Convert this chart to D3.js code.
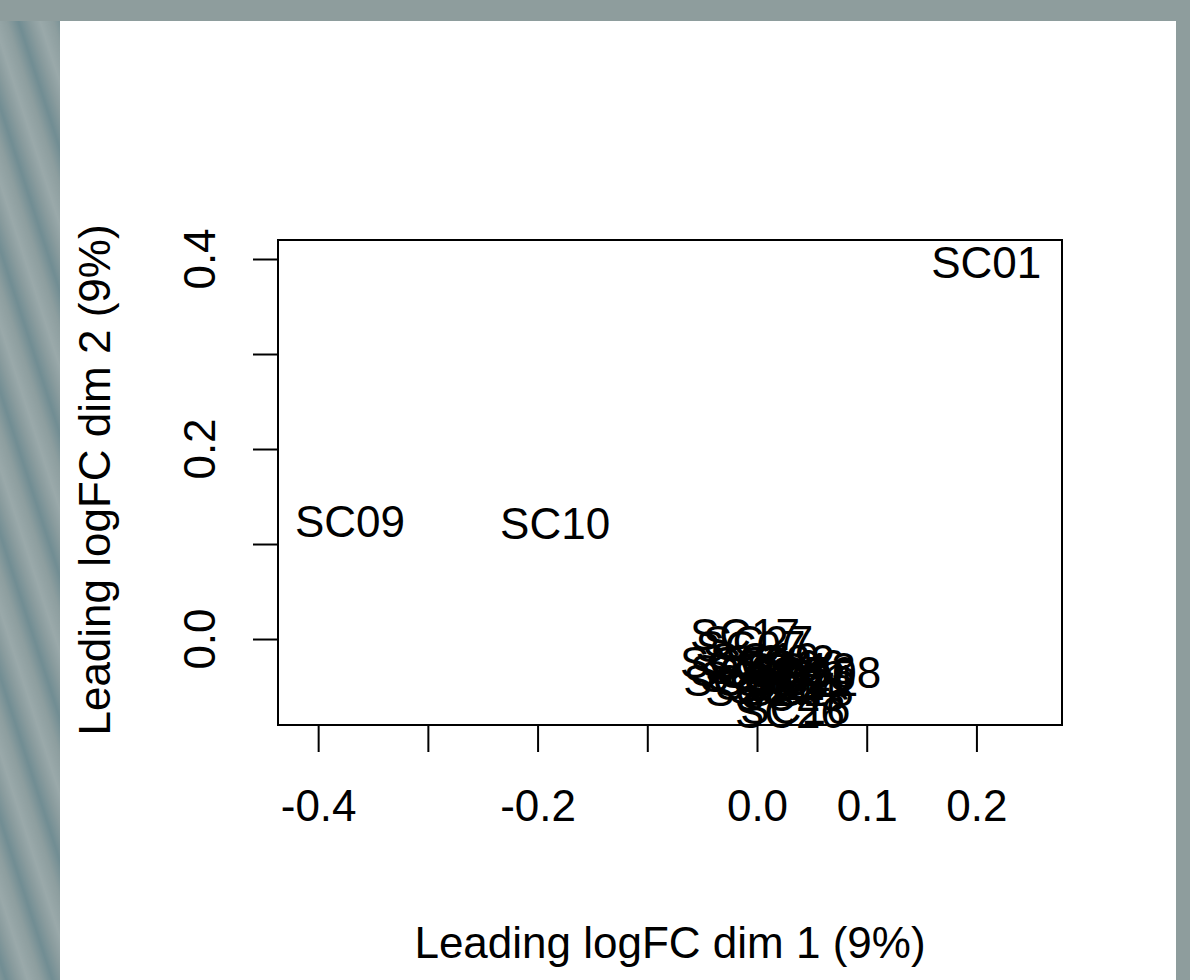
<!DOCTYPE html>
<html>
<head>
<meta charset="utf-8">
<script src="https://cdn.jsdelivr.net/npm/d3@7"></script>
<style>
  body { margin: 0; background: #8e9d9d; }
  svg { display: block; }
  text { font-family: "Liberation Sans", Arial, sans-serif; fill: #000; }
</style>
</head>
<body>
<svg id="mds" width="1190" height="980"></svg>
<script>
// sample labels and their MDS coordinates
const samples = ["SC01","SC09","SC10","SC17","SC07","SC27","SC02","SC03","SC04","SC05","SC06","SC08",
                 "SC11","SC12","SC13","SC14","SC15","SC16","SC18","SC19","SC20","SC21","SC22","SC23",
                 "SC24","SC25","SC26"];
const dim1 = [0.209,-0.371,-0.184,-0.011,-0.006,0.001,-0.020,-0.017,0.003,0.016,0.030,0.063,
              0.036,0.012,0.040,0.024,-0.002,0.035,0.038,0.007,-0.011,0.042,0.021,0.030,
              0.003,0.040,0.030];
const dim2 = [0.397,0.124,0.122,0.005,-0.007,-0.002,-0.024,-0.043,-0.031,-0.035,-0.027,-0.035,
              -0.041,-0.047,-0.031,-0.052,-0.039,-0.073,-0.054,-0.020,-0.033,-0.043,-0.022,-0.059,
              -0.054,-0.038,-0.077];

const xTicks = [-0.4,-0.3,-0.2,-0.1,0.0,0.1,0.2];
const xTickLabels = ["-0.4","","-0.2","","0.0","0.1","0.2"];
const yTicks = [0.0,0.1,0.2,0.3,0.4];
const yTickLabels = ["0.0","","0.2","","0.4"];

const xTitle = "Leading logFC dim 1 (9%)";
const yTitle = "Leading logFC dim 2 (9%)";

const box = {left: 278, right: 1062, top: 240, bottom: 725};

const svg = d3.select("#mds");

// striped left edge of the backdrop
const defs = svg.append("defs");
const grad = defs.append("linearGradient").attr("id", "stripeGrad");
grad.append("stop").attr("offset", "0%").attr("stop-color", "#8d9e9f");
grad.append("stop").attr("offset", "25%").attr("stop-color", "#718d93");
grad.append("stop").attr("offset", "50%").attr("stop-color", "#8a9c9e");
grad.append("stop").attr("offset", "72%").attr("stop-color", "#9aa9aa");
grad.append("stop").attr("offset", "100%").attr("stop-color", "#8d9e9f");
const pat = defs.append("pattern")
    .attr("id", "stripes")
    .attr("patternUnits", "userSpaceOnUse")
    .attr("width", 44).attr("height", 44)
    .attr("patternTransform", "rotate(-18)");
pat.append("rect").attr("width", 44).attr("height", 44).attr("fill", "url(#stripeGrad)");

svg.append("rect").attr("x", 0).attr("y", 0).attr("width", 1190).attr("height", 980).attr("fill", "#8e9d9d");
svg.append("rect").attr("x", 0).attr("y", 21).attr("width", 60).attr("height", 959).attr("fill", "url(#stripes)");
svg.append("rect").attr("x", 60).attr("y", 21).attr("width", 1116).attr("height", 959).attr("fill", "#fff");

const x = d3.scaleLinear().domain([-0.4366, 0.278]).range([box.left, box.right]);
const y = d3.scaleLinear().domain([-0.0905, 0.42]).range([box.bottom, box.top]);

// x axis
const xAxis = svg.append("g")
    .attr("transform", "translate(0," + box.bottom + ")")
    .call(d3.axisBottom(x)
        .tickValues(xTicks)
        .tickSize(27)
        .tickPadding(38)
        .tickFormat((d, i) => xTickLabels[i]));
xAxis.select(".domain").remove();
xAxis.selectAll("line").attr("stroke", "#000").attr("stroke-width", 2);
xAxis.selectAll("text").attr("font-size", 44).attr("font-family", "Liberation Sans, Arial, sans-serif");

// y axis
const yAxis = svg.append("g")
    .attr("transform", "translate(" + box.left + ",0)")
    .call(d3.axisLeft(y).tickValues(yTicks).tickSize(25).tickFormat(""));
yAxis.select(".domain").remove();
yAxis.selectAll("line").attr("stroke", "#000").attr("stroke-width", 2);

svg.append("g").selectAll("text")
    .data(yTicks)
    .join("text")
    .attr("transform", d => "translate(215," + y(d) + ") rotate(-90)")
    .attr("text-anchor", "middle")
    .attr("font-size", 44)
    .text((d, i) => yTickLabels[i]);

// plot frame
svg.append("rect")
    .attr("x", box.left).attr("y", box.top)
    .attr("width", box.right - box.left).attr("height", box.bottom - box.top)
    .attr("fill", "none").attr("stroke", "#000").attr("stroke-width", 2);

// sample labels
svg.append("g").selectAll("text")
    .data(samples)
    .join("text")
    .attr("x", (d, i) => x(dim1[i]))
    .attr("y", (d, i) => y(dim2[i]))
    .attr("dy", "0.36em")
    .attr("text-anchor", "middle")
    .attr("font-size", 44)
    .text(d => d);

// axis titles
svg.append("text")
    .attr("x", 670).attr("y", 958)
    .attr("text-anchor", "middle")
    .attr("font-size", 44)
    .text(xTitle);

svg.append("text")
    .attr("transform", "translate(110,480) rotate(-90)")
    .attr("text-anchor", "middle")
    .attr("font-size", 44)
    .text(yTitle);
</script>
</body>
</html>
